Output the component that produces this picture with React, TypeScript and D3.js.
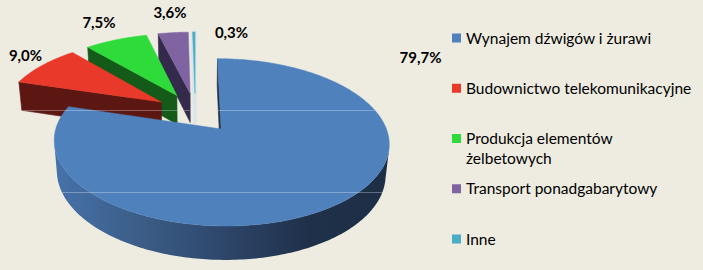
import React from "react";
import * as d3 from "d3";

// ---------- data ----------
const categories = [
  "Wynajem dźwigów i żurawi",
  "Budownictwo telekomunikacyjne",
  "Produkcja elementów żelbetowych",
  "Transport ponadgabarytowy",
  "Inne",
];
const legendLines = [
  ["Wynajem dźwigów i żurawi"],
  ["Budownictwo telekomunikacyjne"],
  ["Produkcja elementów", "żelbetowych"],
  ["Transport ponadgabarytowy"],
  ["Inne"],
];
const values = [79.7, 9.0, 7.5, 3.6, 0.3];
const valueLabels = ["79,7%", "9,0%", "7,5%", "3,6%", "0,3%"];

// ---------- styles / layout ----------
const topColors = ["#4F81BD", "#E8392A", "#2FDB3A", "#8064A2", "#4BACC6"];
const faceColors = ["#1F3148", "#5C1712", "#145A19", "#342A4C", "#D8E6EA"];
const W = 703;
const H = 270;
const BG = "#EEECE1";

// 3D camera (world radius = 1)
const TILT = (28.5 * Math.PI) / 180;
const SN = Math.sin(TILT);
const CS = Math.cos(TILT);
const DIST = 5.67;
const FOCAL = 907;
const CX = 195.4;
const CY = 112.5;
const EXPLODE = 0.26;
const DEPTH = 0.215;
const CAM = [0, -DIST * CS, DIST * SN];

// label anchor positions (text centre x, baseline y)
const labelPos: [number, number][] = [
  [420.5, 63],
  [25.5, 61],
  [99, 27.5],
  [170, 17.5],
  [231.5, 37.5],
];
const legendX = 452;
const legendY0 = 38;
const legendStep = 50.25;
const glossLines = [110.5, 192.5];

function project(x: number, y: number, z: number): [number, number] {
  const zd = DIST + y * CS - z * SN;
  const yv = y * SN + z * CS;
  return [CX + (FOCAL * x) / zd, CY - (FOCAL * yv) / zd];
}

type Face = { d: string; fill: string; sw: number; stroke: string };

export default function App() {
  const arcs = d3.pie<number>().sort(null).value((d) => d)(values);
  const line = d3.line<[number, number]>();
  const poly = (pts: [number, number][]) => (line(pts) as string) + "Z";

  const slices = arcs.map((a, i) => {
    const a0 = a.startAngle;
    const a1 = a.endAngle;
    const m = (a0 + a1) / 2;
    const ox = EXPLODE * Math.sin(m);
    const oy = EXPLODE * Math.cos(m);
    const n = Math.max(2, Math.ceil((a1 - a0) / (Math.PI / 180)));
    const th = d3.range(n + 1).map((k) => a0 + ((a1 - a0) * k) / n);
    const rim = (t: number, z: number) => project(ox + Math.sin(t), oy + Math.cos(t), z);
    const faces: Face[] = [];

    // outer curved side: runs of camera-facing segments
    const vis = d3.range(n).map((k) => {
      const t = (th[k] + th[k + 1]) / 2;
      const px = ox + Math.sin(t);
      const py = oy + Math.cos(t);
      return Math.sin(t) * (CAM[0] - px) + Math.cos(t) * (CAM[1] - py) > 0;
    });
    let k = 0;
    while (k < n) {
      if (!vis[k]) {
        k++;
        continue;
      }
      let e = k;
      while (e < n && vis[e]) e++;
      const ts = th.slice(k, e + 1);
      const pts = [...ts.map((t) => rim(t, 0)), ...ts.slice().reverse().map((t) => rim(t, -DEPTH))];
      faces.push({ d: poly(pts), fill: i === 0 ? "url(#blueSide)" : faceColors[i], sw: 0, stroke: "none" });
      k = e;
    }

    // radial faces
    const radial = (ang: number, nx: number, ny: number) => {
      const px = ox + 0.5 * Math.sin(ang);
      const py = oy + 0.5 * Math.cos(ang);
      if (nx * (CAM[0] - px) + ny * (CAM[1] - py) <= 0) return;
      const pts = [project(ox, oy, 0), rim(ang, 0), rim(ang, -DEPTH), project(ox, oy, -DEPTH)];
      faces.push({
        d: poly(pts),
        fill: faceColors[i],
        sw: i === 4 ? 3 : 0.6,
        stroke: faceColors[i],
      });
    };
    radial(a0, -Math.cos(a0), Math.sin(a0));
    radial(a1, Math.cos(a1), -Math.sin(a1));

    // top face
    const topPts = [project(ox, oy, 0), ...th.map((t) => rim(t, 0))];
    faces.push({ d: poly(topPts), fill: topColors[i], sw: 0.5, stroke: topColors[i] });

    const depth = DIST + (oy + 0.5 * Math.cos(m)) * CS;
    return { i, faces, depth };
  });

  const ordered = slices.slice().sort((a, b) => b.depth - a.depth);
  const allFaces = ordered.flatMap((s) => s.faces.map((f, j) => ({ ...f, key: `${s.i}-${j}` })));

  return (
    <div style={{ position: "fixed", left: 0, top: 0 }}>
      <svg width={W} height={H} viewBox={`0 0 ${W} ${H}`} style={{ display: "block" }}>
        <defs>
          <linearGradient id="blueSide" gradientUnits="userSpaceOnUse" x1={55} x2={390} y1={0} y2={0}>
            <stop offset="0" stopColor="#4672AA" />
            <stop offset="0.28" stopColor="#3A5B84" />
            <stop offset="0.55" stopColor="#2B4265" />
            <stop offset="0.76" stopColor="#1F3149" />
            <stop offset="1" stopColor="#1D2E45" />
          </linearGradient>
          <clipPath id="pieClip">
            {allFaces.map((f) => (
              <path key={f.key} d={f.d} />
            ))}
          </clipPath>
        </defs>
        <rect width={W} height={H} fill={BG} />
        {allFaces.map((f) => (
          <path key={f.key} d={f.d} fill={f.fill} stroke={f.stroke} strokeWidth={f.sw} strokeLinejoin="round" />
        ))}
        <g clipPath="url(#pieClip)">
          {glossLines.map((y) => (
            <line key={y} x1={0} x2={400} y1={y} y2={y} stroke="#ffffff" strokeOpacity={0.3} strokeWidth={1} />
          ))}
        </g>
        <g fontFamily="Lato, 'Open Sans', sans-serif" fontWeight={700} fontSize={15} fill="#000" textAnchor="middle">
          {valueLabels.map((t, i) => (
            <text key={t} x={labelPos[i][0]} y={labelPos[i][1]}>
              {t}
            </text>
          ))}
        </g>
        <g fontFamily="Lato, 'Open Sans', sans-serif" fontSize={15.5} fill="#000">
          {categories.map((c, i) => {
            const y = legendY0 + legendStep * i;
            return (
              <g key={c}>
                <rect x={legendX} y={y - 4.5} width={9} height={9} fill={topColors[i]} />
                {legendLines[i].map((ln, j) => (
                  <text key={j} x={legendX + 14} y={y + 5.5 + j * 20}>
                    {ln}
                  </text>
                ))}
              </g>
            );
          })}
        </g>
      </svg>
    </div>
  );
}
